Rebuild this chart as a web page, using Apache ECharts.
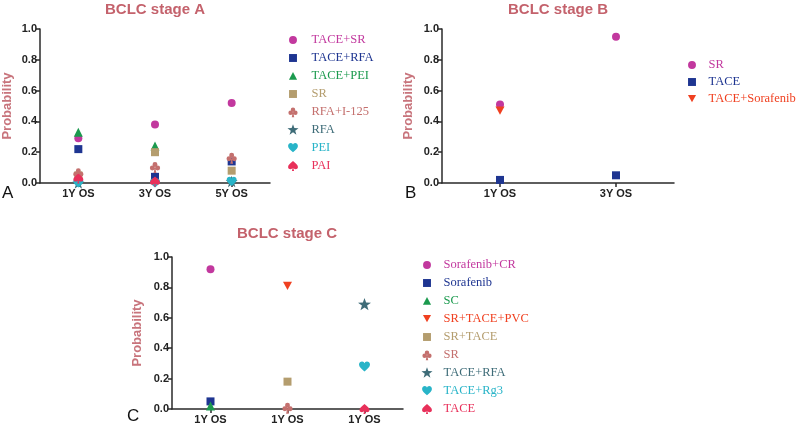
<!DOCTYPE html>
<html>
<head>
<meta charset="utf-8">
<script src="https://cdn.jsdelivr.net/npm/echarts@6/dist/echarts.min.js"></script>
<style>html,body{margin:0;padding:0;background:#fff}#c{width:800px;height:425px}</style>
</head>
<body>
<div id="c"></div>
<script>
// ---- categories ----
const catsA = ['1Y OS', '3Y OS', '5Y OS'];
const catsB = ['1Y OS', '3Y OS'];
const catsC = ['1Y OS', '1Y OS', '1Y OS'];
const yTicks = [0, 0.2, 0.4, 0.6, 0.8, 1.0];

// ---- stage A values (per category; null = not shown) ----
const A_TACE_SR   = [0.29, 0.38, 0.52];
const A_TACE_RFA  = [0.22, 0.04, 0.14];
const A_TACE_PEI  = [0.33, 0.24, null];
const A_SR        = [0.05, 0.20, 0.08];
const A_RFA_I125  = [0.06, 0.10, 0.16];
const A_RFA       = [0.00, null, 0.01];
const A_PEI       = [0.00, 0.00, 0.01];
const A_PAI       = [0.03, 0.01, null];

// ---- stage B values ----
const B_SR        = [0.51, 0.95];
const B_TACE      = [0.02, 0.05];
const B_TACE_SORA = [0.47, null];

// ---- stage C values (each series at one category) ----
const C_SORA_CR   = [0.92, null, null];
const C_SORA      = [0.05, null, null];
const C_SC        = [0.02, null, null];
const C_SR_TACE_PVC = [null, 0.81, null];
const C_SR_TACE   = [null, 0.18, null];
const C_SR        = [null, 0.005, null];
const C_TACE_RFA  = [null, null, 0.69];
const C_TACE_RG3  = [null, null, 0.28];
const C_TACE      = [null, null, 0.0];

// ---- style ----
const COL = {
  magenta: '#c2389e', blue: '#1e3591', green: '#1b9a4e', tan: '#b49d6e',
  rosy: '#c4706e', teal: '#3e6c78', cyan: '#28b4c8', red: '#e8305a', orange: '#f04020'
};
const SHAPE = {
  down: 'M0,0 L100,0 L50,90 Z',
  club: 'M50,6 A21,21 0 1,1 49.99,6 Z M27,36 A21,21 0 1,1 26.99,36 Z M73,36 A21,21 0 1,1 72.99,36 Z M50,45 L62,100 L38,100 Z',
  star: 'M50,0 L61.8,33.8 L97.6,34.5 L69,56.2 L79.4,90.5 L50,70 L20.6,90.5 L31,56.2 L2.4,34.5 L38.2,33.8 Z',
  heart: 'M50,92 C20,66 0,52 0,29 C0,11 14,0 28,0 C40,0 48,8 50,18 C52,8 60,0 72,0 C86,0 100,11 100,29 C100,52 80,66 50,92 Z',
  spade: 'M50,0 C80,26 100,40 100,60 C100,75 88,82 76,82 C66,82 57,77 53,70 L61,100 L39,100 L47,70 C43,77 34,82 24,82 C12,82 0,75 0,60 C0,40 20,26 50,0 Z'
};
const SYM = {};
Object.keys(SHAPE).forEach(k => { SYM[k] = 'path://' + SHAPE[k]; });

// legend icons: padded bounding box so that they appear at the reference size
function padded(d, p) { return 'path://M' + (-p) + ',' + (-p) + ' M' + (100 + p) + ',' + (100 + p) + ' ' + d; }
const LEGEND_ICON = {
  circle: padded('M50,0 A50,50 0 1,1 49.99,0 Z', 32),
  rect: padded('M0,0 L100,0 L100,100 L0,100 Z', 32),
  triangle: padded('M50,0 L100,95 L0,95 Z', 30)
};
LEGEND_ICON[SYM.down] = padded(SHAPE.down, 30);
LEGEND_ICON[SYM.club] = padded(SHAPE.club, 12);
LEGEND_ICON[SYM.star] = padded(SHAPE.star, 6);
LEGEND_ICON[SYM.heart] = padded(SHAPE.heart, 16);
LEGEND_ICON[SYM.spade] = padded(SHAPE.spade, 16);

const sans = 'Liberation Sans, Arial, sans-serif';
const serif = 'Liberation Serif, Times New Roman, serif';

function mkSeries(id, label, vals, axis, color, symbol, size) {
  const data = [];
  vals.forEach((v, i) => { if (v !== null) data.push([i, v]); });
  return {
    type: 'scatter', name: id + '|' + label, xAxisIndex: axis, yAxisIndex: axis,
    data: data, symbol: symbol, symbolSize: size,
    symbolKeepAspect: true, itemStyle: { color: color, opacity: 1 }, emphasis: { disabled: true }
  };
}

const seriesA = [
  mkSeries('A', 'TACE+SR', A_TACE_SR, 0, COL.magenta, 'circle', 8),
  mkSeries('A', 'TACE+RFA', A_TACE_RFA, 0, COL.blue, 'rect', 8),
  mkSeries('A', 'TACE+PEI', A_TACE_PEI, 0, COL.green, 'triangle', 9),
  mkSeries('A', 'SR', A_SR, 0, COL.tan, 'rect', 8),
  mkSeries('A', 'RFA+I-125', A_RFA_I125, 0, COL.rosy, SYM.club, 11),
  mkSeries('A', 'RFA', A_RFA, 0, COL.teal, SYM.star, 12),
  mkSeries('A', 'PEI', A_PEI, 0, COL.cyan, SYM.heart, 10),
  mkSeries('A', 'PAI', A_PAI, 0, COL.red, SYM.spade, 10)
];
const seriesB = [
  mkSeries('B', 'SR', B_SR, 1, COL.magenta, 'circle', 8),
  mkSeries('B', 'TACE', B_TACE, 1, COL.blue, 'rect', 8),
  mkSeries('B', 'TACE+Sorafenib', B_TACE_SORA, 1, COL.orange, SYM.down, 9)
];
const seriesC = [
  mkSeries('C', 'Sorafenib+CR', C_SORA_CR, 2, COL.magenta, 'circle', 8),
  mkSeries('C', 'Sorafenib', C_SORA, 2, COL.blue, 'rect', 8),
  mkSeries('C', 'SC', C_SC, 2, COL.green, 'triangle', 9),
  mkSeries('C', 'SR+TACE+PVC', C_SR_TACE_PVC, 2, COL.orange, SYM.down, 9),
  mkSeries('C', 'SR+TACE', C_SR_TACE, 2, COL.tan, 'rect', 8),
  mkSeries('C', 'SR', C_SR, 2, COL.rosy, SYM.club, 11),
  mkSeries('C', 'TACE+RFA', C_TACE_RFA, 2, COL.teal, SYM.star, 13),
  mkSeries('C', 'TACE+Rg3', C_TACE_RG3, 2, COL.cyan, SYM.heart, 11),
  mkSeries('C', 'TACE', C_TACE, 2, COL.red, SYM.spade, 10)
];

function mkLegend(series, left, top, gap, pad) {
  return {
    orient: 'vertical', left: left, top: top, itemWidth: 13, itemHeight: 13, itemGap: gap,
    selectedMode: false, padding: 0,
    formatter: n => n.split('|')[1],
    textStyle: { fontFamily: serif, fontSize: 12.5, lineHeight: 14, padding: [0, 0, 0, pad] },
    data: series.map(s => {
      const d = { name: s.name, textStyle: { color: s.itemStyle.color } };
      if (LEGEND_ICON[s.symbol]) d.icon = LEGEND_ICON[s.symbol];
      return d;
    })
  };
}

function yAx(grid, nameGap) {
  return {
    type: 'value', gridIndex: grid, min: 0, max: 1, interval: 0.2,
    name: 'Probability', nameLocation: 'middle', nameGap: nameGap,
    nameTextStyle: { color: '#c8747c', fontWeight: 'bold', fontSize: 13, fontFamily: sans },
    axisLine: { show: true, lineStyle: { color: '#2a2a2a', width: 1.5 } },
    axisTick: { show: true, length: 4, lineStyle: { color: '#2a2a2a', width: 1.5 } },
    axisLabel: { color: '#222', fontWeight: 'bold', fontSize: 11, fontFamily: sans, margin: 3,
      formatter: v => v.toFixed(1) },
    splitLine: { show: false }
  };
}
function xAx(grid, cats) {
  return {
    type: 'category', gridIndex: grid, data: cats, boundaryGap: true,
    axisLine: { show: true, lineStyle: { color: '#2a2a2a', width: 1.5 } },
    axisTick: { show: true, alignWithLabel: true, length: 4, lineStyle: { color: '#2a2a2a', width: 1.5 } },
    axisLabel: { color: '#222', fontWeight: 'bold', fontSize: 11, fontFamily: sans, margin: 5, interval: 0 },
    splitLine: { show: false }
  };
}

const titleStyle = { color: '#c4626c', fontWeight: 'bold', fontSize: 15, fontFamily: sans };
const letterStyle = { color: '#111', fontWeight: 'normal', fontSize: 17, fontFamily: sans };

const option = {
  animation: false,
  backgroundColor: '#fff',
  title: [
    { text: 'BCLC stage A', left: 155, top: 2, textAlign: 'center', textStyle: titleStyle, padding: 0 },
    { text: 'BCLC stage B', left: 558, top: 2, textAlign: 'center', textStyle: titleStyle, padding: 0 },
    { text: 'BCLC stage C', left: 287, top: 226, textAlign: 'center', textStyle: titleStyle, padding: 0 },
    { text: 'A', left: 2, top: 185, textStyle: letterStyle, padding: 0 },
    { text: 'B', left: 405, top: 185, textStyle: letterStyle, padding: 0 },
    { text: 'C', left: 127, top: 408, textStyle: letterStyle, padding: 0 }
  ],
  grid: [
    { left: 38, top: 29, width: 232, height: 154 },
    { left: 442, top: 29, width: 232, height: 154 },
    { left: 172, top: 257, width: 231, height: 152 }
  ],
  xAxis: [xAx(0, catsA), xAx(1, catsB), xAx(2, catsC)],
  yAxis: [yAx(0, 26), yAx(1, 27), yAx(2, 28)],
  legend: [
    mkLegend(seriesA, 286.5, 33, 4, 7),
    mkLegend(seriesB, 685.5, 58, 3, 5),
    mkLegend(seriesC, 420.5, 258, 4, 5)
  ],
  series: [].concat(seriesA, seriesB, seriesC)
};

const chart = echarts.init(document.getElementById('c'), null, { renderer: 'canvas' });
chart.setOption(option);
</script>
</body>
</html>
